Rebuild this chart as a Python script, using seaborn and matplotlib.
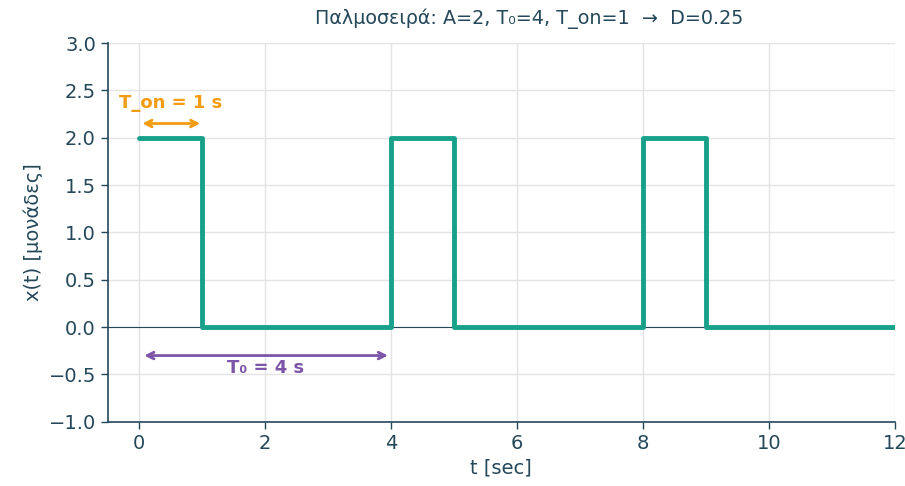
import pandas as pd
import seaborn as sns
import matplotlib.pyplot as plt

# pulse train: A=2, T0=4, T_on=1
t_points = [0, 1, 1, 4, 4, 5, 5, 8, 8, 9, 9, 12]
x_values = [2, 2, 0, 0, 2, 2, 0, 0, 2, 2, 0, 0]

TEXT = "#24485a"
SIGNAL = "#17a08a"
ORANGE = "#f39c12"
PURPLE = "#7d56a9"

sns.set_theme(style="whitegrid")
plt.rcParams["font.family"] = ["DejaVu Sans"]
plt.rcParams.update({
    "axes.edgecolor": TEXT,
    "axes.labelcolor": TEXT,
    "xtick.color": TEXT,
    "ytick.color": TEXT,
    "text.color": TEXT,
    "grid.color": "#e3e3e3",
})

df = pd.DataFrame({"t": t_points, "x": x_values})

fig = plt.figure(figsize=(9.05, 4.86), dpi=100)
ax = fig.add_axes([0.119, 0.132, 0.87, 0.7795])

ax.axhline(0, color=TEXT, linewidth=0.8, zorder=1)
sns.lineplot(data=df, x="t", y="x", sort=False, estimator=None,
             color=SIGNAL, linewidth=3.5, ax=ax, zorder=3)

ax.set_xlim(-0.5, 12)
ax.set_ylim(-1, 3)
ax.set_yticks([-1, -0.5, 0, 0.5, 1, 1.5, 2, 2.5, 3])
ax.set_xticks([0, 2, 4, 6, 8, 10, 12])
ax.set_xlabel("t [sec]", fontsize=14)
ax.set_ylabel("x(t) [μονάδες]", fontsize=14)
ax.set_title("Παλμοσειρά: A=2, T₀=4, T_on=1  →  D=0.25", fontsize=13.8, color=TEXT,
             pad=14, x=0.535)
ax.tick_params(axis="both", labelsize=14, length=5, width=1, bottom=True, left=True)
for side in ["top", "right"]:
    ax.spines[side].set_visible(False)
for side in ["left", "bottom"]:
    ax.spines[side].set_linewidth(1.2)

ax.annotate("", xy=(0.05, 2.15), xytext=(0.97, 2.15),
            arrowprops=dict(arrowstyle="<->", color=ORANGE, lw=2, shrinkA=0, shrinkB=0))
ax.text(0.5, 2.37, "T_on = 1 s", color=ORANGE, fontsize=13, fontweight="bold",
        ha="center", va="center")

ax.annotate("", xy=(0.08, -0.3), xytext=(3.95, -0.3),
            arrowprops=dict(arrowstyle="<->", color=PURPLE, lw=2, shrinkA=0, shrinkB=0))
ax.text(2, -0.43, "T₀ = 4 s", color=PURPLE, fontsize=13, fontweight="bold",
        ha="center", va="center")

fig.savefig("out.png", dpi=100)
